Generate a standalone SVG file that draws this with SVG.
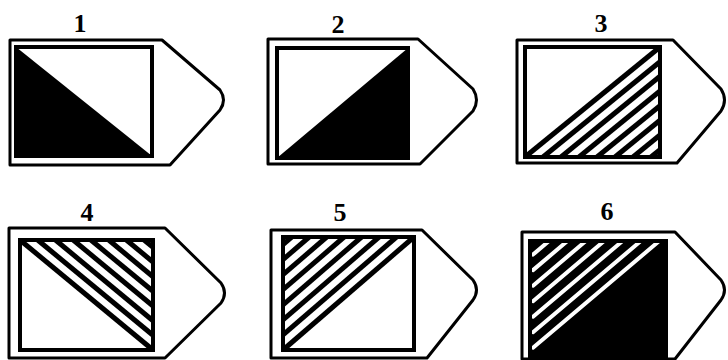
<svg xmlns="http://www.w3.org/2000/svg" width="728" height="360" viewBox="0 0 728 360">
<style>
.bg{fill:#fff}
.outer{fill:#fff;stroke:#000;stroke-width:3;stroke-linejoin:round}
.innerfill{fill:#fff}
.innerline{fill:none;stroke:#000;stroke-width:4}
.solid{fill:#000}
.hatch{stroke:#000;stroke-width:5}
.whatch{stroke:#fff;stroke-width:4;stroke-linecap:round}
.label{font-family:"Liberation Serif",serif;font-weight:bold;font-size:26px;text-anchor:middle;fill:#000}
</style>
<rect class="bg" x="0" y="0" width="728" height="360"/>
<g id="panel1">
<text class="label" x="80" y="32">1</text>
<path class="outer" d="M10,40 H162 L220,90 Q227,100 220,110 L170,165 H10 Z"/>
<rect class="innerfill" x="16" y="47" width="136" height="109"/>
<polygon class="solid" points="16,47 152,156 16,156"/>
<rect class="innerline" x="16" y="47" width="136" height="109"/>
</g>
<g id="panel2">
<text class="label" x="338" y="33">2</text>
<path class="outer" d="M268,39 H418 L473,89 Q480,100 473,111 L420,164 H268 Z"/>
<rect class="innerfill" x="277" y="48" width="131" height="110"/>
<polygon class="solid" points="277,158 408,48 408,158"/>
<rect class="innerline" x="277" y="48" width="131" height="110"/>
</g>
<g id="panel3">
<text class="label" x="601" y="32">3</text>
<path class="outer" d="M517,40 H673 L721,89 Q728,100 721,111 L677,163 H517 Z"/>
<rect class="innerfill" x="525" y="47" width="135" height="110"/>
<g class="hatch">
<line x1="525" y1="157" x2="660" y2="47"/>
<line x1="543" y1="157" x2="660" y2="61.7"/>
<line x1="561" y1="157" x2="660" y2="76.3"/>
<line x1="579" y1="157" x2="660" y2="91"/>
<line x1="597" y1="157" x2="660" y2="105.7"/>
<line x1="615" y1="157" x2="660" y2="120.3"/>
<line x1="633" y1="157" x2="660" y2="135"/>
<line x1="651" y1="157" x2="660" y2="149.7"/>
</g>
<rect class="innerline" x="525" y="47" width="135" height="110"/>
</g>
<g id="panel4">
<text class="label" x="87" y="221">4</text>
<path class="outer" d="M9,228 H165 L221,283 Q228,293 221,303 L165,358 H9 Z"/>
<rect class="innerfill" x="20" y="240" width="133" height="110"/>
<g class="hatch">
<line x1="20" y1="240" x2="153" y2="350"/>
<line x1="37.7" y1="240" x2="153" y2="335.3"/>
<line x1="55.5" y1="240" x2="153" y2="320.7"/>
<line x1="73.2" y1="240" x2="153" y2="306"/>
<line x1="90.9" y1="240" x2="153" y2="291.3"/>
<line x1="108.7" y1="240" x2="153" y2="276.7"/>
<line x1="126.4" y1="240" x2="153" y2="262"/>
<line x1="144.1" y1="240" x2="153" y2="247.3"/>
</g>
<rect class="innerline" x="20" y="240" width="133" height="110"/>
</g>
<g id="panel5">
<text class="label" x="340" y="221">5</text>
<path class="outer" d="M271,230 H422 L473,280 Q480,290 473,300 L427,358 H271 Z"/>
<rect class="innerfill" x="283" y="237" width="131" height="113"/>
<g class="hatch">
<line x1="283" y1="350" x2="414" y2="237"/>
<line x1="283" y1="334.9" x2="396.5" y2="237"/>
<line x1="283" y1="319.9" x2="379.1" y2="237"/>
<line x1="283" y1="304.8" x2="361.6" y2="237"/>
<line x1="283" y1="289.7" x2="344.1" y2="237"/>
<line x1="283" y1="274.7" x2="326.7" y2="237"/>
<line x1="283" y1="259.6" x2="309.2" y2="237"/>
<line x1="283" y1="244.5" x2="291.7" y2="237"/>
</g>
<rect class="innerline" x="283" y="237" width="131" height="113"/>
</g>
<g id="panel6">
<text class="label" x="607" y="220">6</text>
<path class="outer" d="M522,232 H675 L721,280 Q728,290 721,300 L675,359 H522 Z"/>
<rect class="solid" x="530" y="241" width="136" height="115"/>
<g class="whatch">
<line x1="533" y1="347.7" x2="659.2" y2="241"/>
<line x1="533" y1="332.2" x2="640.8" y2="241"/>
<line x1="533" y1="316.7" x2="622.5" y2="241"/>
<line x1="533" y1="301.2" x2="604.1" y2="241"/>
<line x1="533" y1="285.7" x2="585.8" y2="241"/>
<line x1="533" y1="270.1" x2="567.4" y2="241"/>
<line x1="533" y1="254.6" x2="549" y2="241"/>
</g>
<rect class="innerline" x="530" y="241" width="136" height="115"/>
</g>
</svg>
